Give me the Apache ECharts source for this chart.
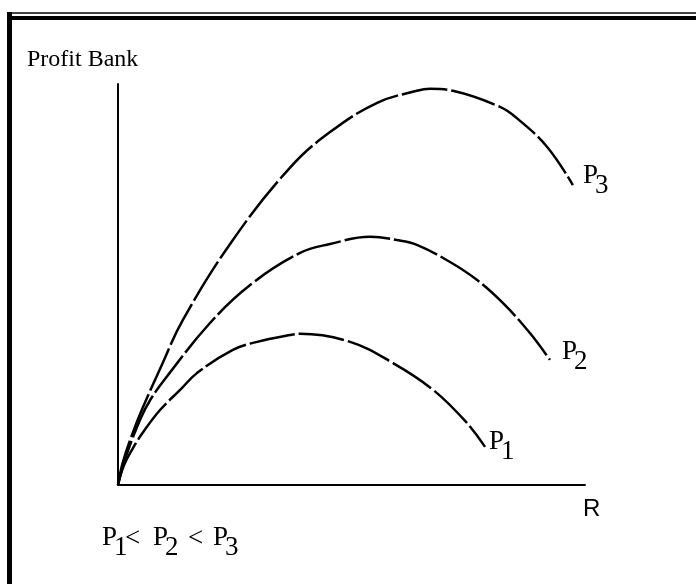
<!DOCTYPE html>
<html>
<head>
<meta charset="utf-8">
<script src="https://cdn.jsdelivr.net/npm/echarts@6/dist/echarts.min.js"></script>
<style>
  html, body { margin: 0; padding: 0; background: #fff; }
  #chart { width: 696px; height: 584px; }
</style>
</head>
<body>
<div id="chart"></div>
<script>
// curves, x = R (0-100), y = profit (0-100)
var p1Data = [[0, 0], [1.3, 5.0], [3.2, 9.2], [5.4, 13.2], [9.0, 18.7], [13.3, 23.7], [16.9, 27.9],
  [24.6, 33.7], [29.8, 35.7], [36.8, 37.4], [39.0, 37.7], [49.7, 35.7], [58.9, 30.4],
  [67.5, 23.7], [74.7, 15.5], [78.6, 9.5]]
var p2Data = [[0, 0], [1.3, 5.7], [4.7, 16.2], [6.9, 21.2], [10.7, 27.4], [19.7, 40.4], [28.3, 49.9],
  [39.0, 57.9], [45.4, 60.1], [54.0, 61.9], [59.7, 61.1], [64.0, 59.9], [71.1, 55.6],
  [76.9, 51.1], [82.4, 45.4], [88.2, 37.9], [92.5, 31.2]]
var p3Data = [[0, 0], [1.0, 5.5], [3.0, 12.5], [5.2, 19.0], [9.6, 30.5], [13.9, 41.2],
  [24.6, 61.1], [36.8, 79.1], [45.4, 88.0], [55.5, 95.3], [64.0, 98.3], [66.8, 98.8],
  [71.7, 98.3], [81.8, 94.3], [85.4, 91.5], [91.9, 84.3], [97.4, 74.8]]
var seriesNames = ['P1', 'P2', 'P3']
var yName = 'Profit Bank'
var xName = 'R'

var serif = '"Liberation Serif", "Times New Roman", serif'
var sans = '"Liberation Sans", Arial, sans-serif'

var myChart = echarts.init(document.getElementById('chart'))

function txt(x, y, s, size, family) {
  return {
    type: 'text', x: x, y: y, silent: true,
    style: {
      text: s, fill: '#000', font: size + 'px ' + family,
      align: 'left', verticalAlign: 'middle'
    }
  }
}

// "P" with a lowered digit
function pLabel(x, y, digit, size) {
  return [txt(x, y, 'P', size, serif), txt(x + 12, y + 10, digit, size, serif)]
}

function lineSeries(name, data) {
  return {
    name: name,
    type: 'line',
    data: data,
    smooth: 0.4,
    symbol: 'none',
    lineStyle: { color: '#000', width: 2.5, type: [46, 4] }
  }
}

var graphics = [
  // frame (only top and left edges show)
  { type: 'rect', shape: { x: 7, y: 12, width: 689, height: 2 }, style: { fill: '#444' } },
  { type: 'rect', shape: { x: 7, y: 16, width: 689, height: 4 }, style: { fill: '#000' } },
  { type: 'rect', shape: { x: 7, y: 12, width: 5, height: 572 }, style: { fill: '#000' } },
  txt(27, 60, yName, 24, serif),
  txt(583, 509, xName, 24, sans)
]
graphics = graphics.concat(pLabel(583, 176, '3', 27))
graphics = graphics.concat(pLabel(562, 352, '2', 27))
graphics = graphics.concat(pLabel(489, 442, '1', 27))
// P1 < P2 < P3
graphics = graphics.concat(pLabel(102, 538, '1', 27))
graphics.push(txt(125, 539, '<', 27, serif))
graphics = graphics.concat(pLabel(153, 538, '2', 27))
graphics.push(txt(188, 539, '<', 27, serif))
graphics = graphics.concat(pLabel(213, 538, '3', 27))

var option = {
  backgroundColor: '#fff',
  animation: false,
  grid: { left: 118, right: 111, top: 84, bottom: 99 },
  xAxis: {
    type: 'value', min: 0, max: 100,
    axisLine: { onZero: false, lineStyle: { color: '#000', width: 2 } },
    axisTick: { show: false }, axisLabel: { show: false }, splitLine: { show: false }
  },
  yAxis: {
    type: 'value', min: 0, max: 100,
    axisLine: { show: true, onZero: false, lineStyle: { color: '#000', width: 2 } },
    axisTick: { show: false }, axisLabel: { show: false }, splitLine: { show: false }
  },
  graphic: graphics,
  series: [
    lineSeries(seriesNames[0], p1Data),
    lineSeries(seriesNames[1], p2Data),
    lineSeries(seriesNames[2], p3Data)
  ]
}
myChart.setOption(option)
</script>
</body>
</html>
